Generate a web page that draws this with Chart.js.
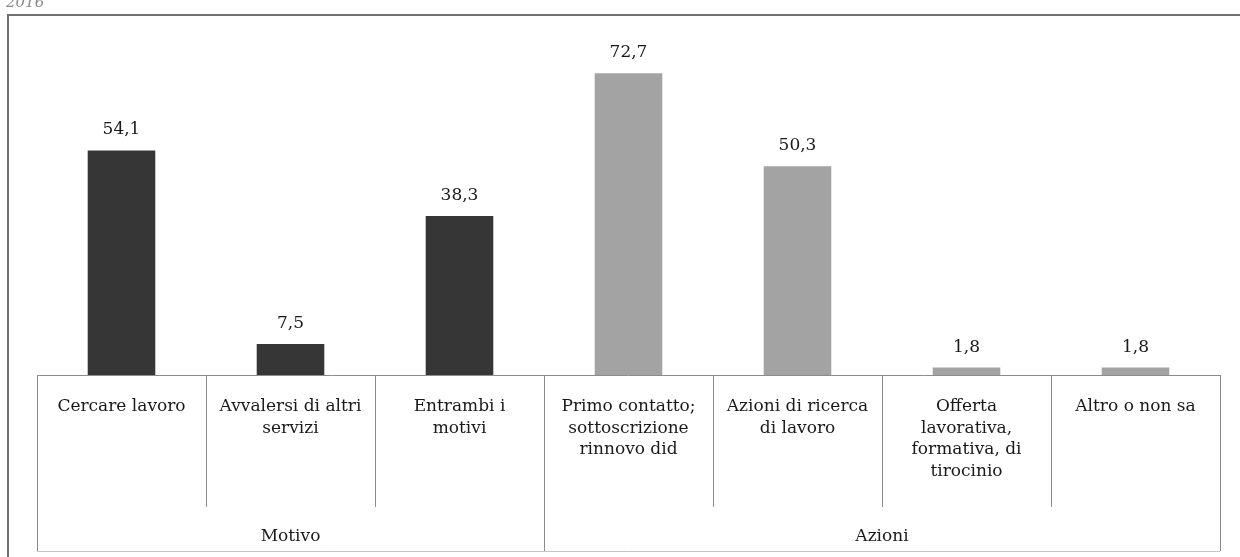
<!DOCTYPE html>
<html>
<head>
<meta charset="utf-8">
<script src="https://cdn.jsdelivr.net/npm/chart.js@4"></script>
<style>
    html, body { margin: 0; padding: 0; background: #ffffff; }
    #wrap { width: 1240px; height: 557px; position: relative; }
</style>
</head>
<body>
<div id="wrap"><canvas id="chart"></canvas></div>
<script>
// Categories (multi-line as in the original Excel wrap)
const categories = [
    ['Cercare lavoro'],
    ['Avvalersi di altri', 'servizi'],
    ['Entrambi i', 'motivi'],
    ['Primo contatto;', 'sottoscrizione', 'rinnovo did'],
    ['Azioni di ricerca', 'di lavoro'],
    ['Offerta', 'lavorativa,', 'formativa, di', 'tirocinio'],
    ['Altro o non sa']
];
const values = [54.1, 7.5, 38.3, 72.7, 50.3, 1.8, 1.8];

// Groups of the second axis level
const groupNames = ['Motivo', 'Azioni'];
const groupSizes = [3, 4];

const colors = {
    motivo: '#363636',
    azioni: '#a3a3a3',
    line: '#8c8c8c',
    text: '#1a1a1a'
};
const serif = "'DejaVu Serif', 'Liberation Serif', serif";

const barColors = [];
groupSizes.forEach((n, g) => {
    for (let i = 0; i < n; i++) barColors.push(g === 0 ? colors.motivo : colors.azioni);
});

// Draws the table under the axis, the value labels and the page frame
const tablePlugin = {
    id: 'tablePlugin',
    beforeDraw(chart) {
        const ctx = chart.ctx;
        ctx.save();
        ctx.fillStyle = '#ffffff';
        ctx.fillRect(0, 0, chart.width, chart.height);
        // frame of the page figure
        ctx.strokeStyle = '#707070';
        ctx.lineWidth = 2;
        ctx.beginPath();
        ctx.moveTo(8, chart.height);
        ctx.lineTo(8, 15);
        ctx.lineTo(chart.width, 15);
        ctx.stroke();
        // title cut by the scan
        ctx.fillStyle = '#8a8a8a';
        ctx.font = "italic 15px " + serif;
        ctx.textBaseline = 'alphabetic';
        ctx.fillText('2016', 6, 7);
        ctx.restore();
    },
    afterDraw(chart) {
        const ctx = chart.ctx;
        const x = chart.scales.x;
        const area = chart.chartArea;
        const n = categories.length;
        const step = x.getPixelForValue(1) - x.getPixelForValue(0);
        const edge = i => x.getPixelForValue(i) - step / 2;
        const base = area.bottom;
        const innerBottom = base + 132;
        const outerBottom = chart.height - 6;

        ctx.save();
        ctx.strokeStyle = colors.line;
        ctx.lineWidth = 1;
        ctx.beginPath();
        ctx.moveTo(edge(0), base + 0.5);
        ctx.lineTo(edge(n), base + 0.5);
        let k = 0;
        const outer = [0];
        groupSizes.forEach(s => { k += s; outer.push(k); });
        for (let i = 0; i <= n; i++) {
            const px = Math.round(edge(i)) + 0.5;
            ctx.moveTo(px, base);
            ctx.lineTo(px, outer.includes(i) ? outerBottom : innerBottom);
        }
        ctx.stroke();
        ctx.strokeStyle = '#c4c4c4';
        ctx.beginPath();
        ctx.moveTo(edge(0), outerBottom + 0.5);
        ctx.lineTo(edge(n), outerBottom + 0.5);
        ctx.stroke();

        // group labels
        ctx.fillStyle = colors.text;
        ctx.font = "17px " + serif;
        ctx.textAlign = 'center';
        ctx.textBaseline = 'middle';
        groupNames.forEach((g, i) => {
            const cx = (edge(outer[i]) + edge(outer[i + 1])) / 2;
            ctx.fillText(g, cx, (innerBottom + outerBottom) / 2 + 8);
        });

        // value labels on top of bars
        const meta = chart.getDatasetMeta(0);
        ctx.textBaseline = 'alphabetic';
        meta.data.forEach((bar, i) => {
            ctx.fillText(values[i].toFixed(1).replace('.', ','), bar.x, bar.y - 16);
        });
        ctx.restore();
    }
};

new Chart(document.getElementById('chart'), {
    type: 'bar',
    data: {
        labels: categories,
        datasets: [{
            data: values,
            backgroundColor: barColors,
            borderWidth: 0,
            categoryPercentage: 1,
            barPercentage: 0.4
        }]
    },
    options: {
        responsive: true,
        maintainAspectRatio: false,
        animation: false,
        layout: {
            padding: { left: 37, right: 20, top: 43, bottom: 2 }
        },
        plugins: {
            legend: { display: false },
            tooltip: { enabled: false }
        },
        scales: {
            y: {
                display: false,
                min: 0,
                max: 80
            },
            x: {
                grid: { display: false, drawTicks: false },
                border: { display: false },
                afterFit: function(scale) {
                    scale.height = 180;
                },
                ticks: {
                    autoSkip: false,
                    maxRotation: 0,
                    minRotation: 0,
                    padding: 21,
                    color: colors.text,
                    font: {
                        family: serif,
                        size: 17,
                        lineHeight: 1.27
                    }
                }
            }
        }
    },
    plugins: [tablePlugin]
});
</script>
</body>
</html>
